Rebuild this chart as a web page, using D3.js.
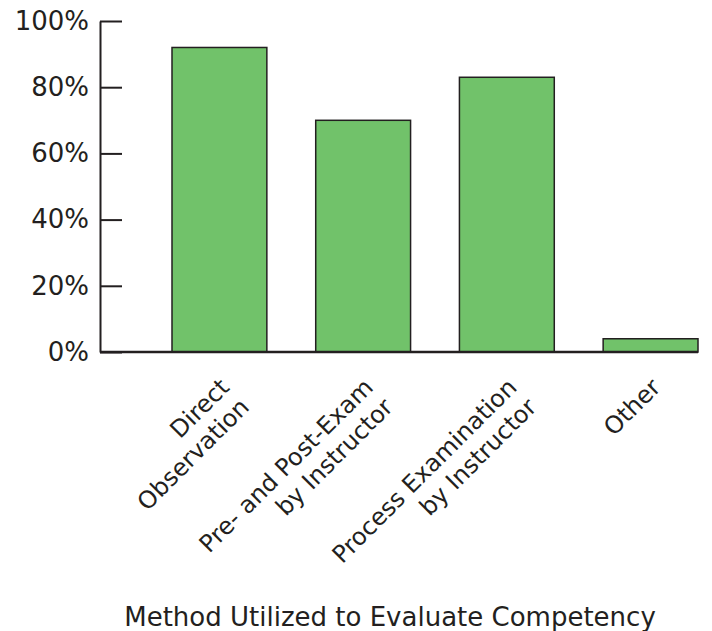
<!DOCTYPE html>
<html>
<head>
<meta charset="utf-8">
<script src="https://cdn.jsdelivr.net/npm/d3@7/dist/d3.min.js"></script>
<style>
  html, body { margin: 0; padding: 0; background: #fff; }
  svg { display: block; }
  text { font-family: Verdana, "DejaVu Sans", sans-serif; fill: #231f20; }
</style>
</head>
<body>
<svg id="chart" width="712" height="631"></svg>
<script>
// Share of programs using each method (percent)
const categories = [
  ["Direct", "Observation"],
  ["Pre- and Post-Exam", "by Instructor"],
  ["Process Examination", "by Instructor"],
  ["Other"]
];
const values = [92, 70, 83, 4];
const yTicks = [0, 20, 40, 60, 80, 100];
const axisTitle = "Method Utilized to Evaluate Competency";

const ink = "#231f20";
const barFill = "#71c26a";

const svg = d3.select("#chart");
const keys = categories.map(c => c.join(" "));

const x = d3.scaleBand()
  .domain(keys)
  .range([172, 698])
  .paddingInner(0.34)
  .paddingOuter(0);

const y = d3.scaleLinear()
  .domain([0, 100])
  .range([352, 21]);

// Bars
svg.append("g")
  .selectAll("rect")
  .data(values)
  .join("rect")
  .attr("x", (d, i) => x(keys[i]))
  .attr("y", d => y(d))
  .attr("width", x.bandwidth())
  .attr("height", d => y(0) - y(d))
  .attr("fill", barFill)
  .attr("stroke", ink)
  .attr("stroke-width", 1.5);

// Baseline along the bottom of the bars
svg.append("line")
  .attr("x1", 100).attr("x2", x.range()[1])
  .attr("y1", y(0)).attr("y2", y(0))
  .attr("stroke", ink)
  .attr("stroke-width", 2.5);

// Y axis with inward ticks
const yAxis = d3.axisLeft(y)
  .tickValues(yTicks)
  .tickFormat(d => d + "%")
  .tickSizeInner(-22)
  .tickSizeOuter(0)
  .tickPadding(11);

const gy = svg.append("g")
  .attr("transform", "translate(100,0)")
  .call(yAxis);
gy.select(".domain").attr("stroke", ink).attr("stroke-width", 2);
gy.selectAll(".tick line").attr("stroke", ink).attr("stroke-width", 2);
gy.selectAll(".tick text")
  .attr("font-size", 26)
  .attr("fill", ink)
  .style("font-family", 'Verdana, "DejaVu Sans", sans-serif');

// X axis: rotated, multi-line category labels
const xAxis = d3.axisBottom(x).tickSize(0).tickFormat("");
const gx = svg.append("g")
  .attr("transform", `translate(0,${y(0)})`)
  .call(xAxis);
gx.select(".domain").remove();

gx.selectAll(".tick").each(function(d, i) {
  const t = d3.select(this).append("text")
    .attr("transform", "rotate(-45)")
    .attr("text-anchor", "end")
    .attr("font-size", 24)
    .attr("fill", ink)
    .style("font-family", 'Verdana, "DejaVu Sans", sans-serif');
  categories[i].forEach((line, j) => {
    t.append("tspan")
      .attr("x", -18)
      .attr("y", 34 + j * 28)
      .text(line);
  });
});

// Axis title
svg.append("text")
  .attr("x", 390)
  .attr("y", 626)
  .attr("text-anchor", "middle")
  .attr("font-size", 26)
  .attr("fill", ink)
  .text(axisTitle);
</script>
</body>
</html>
